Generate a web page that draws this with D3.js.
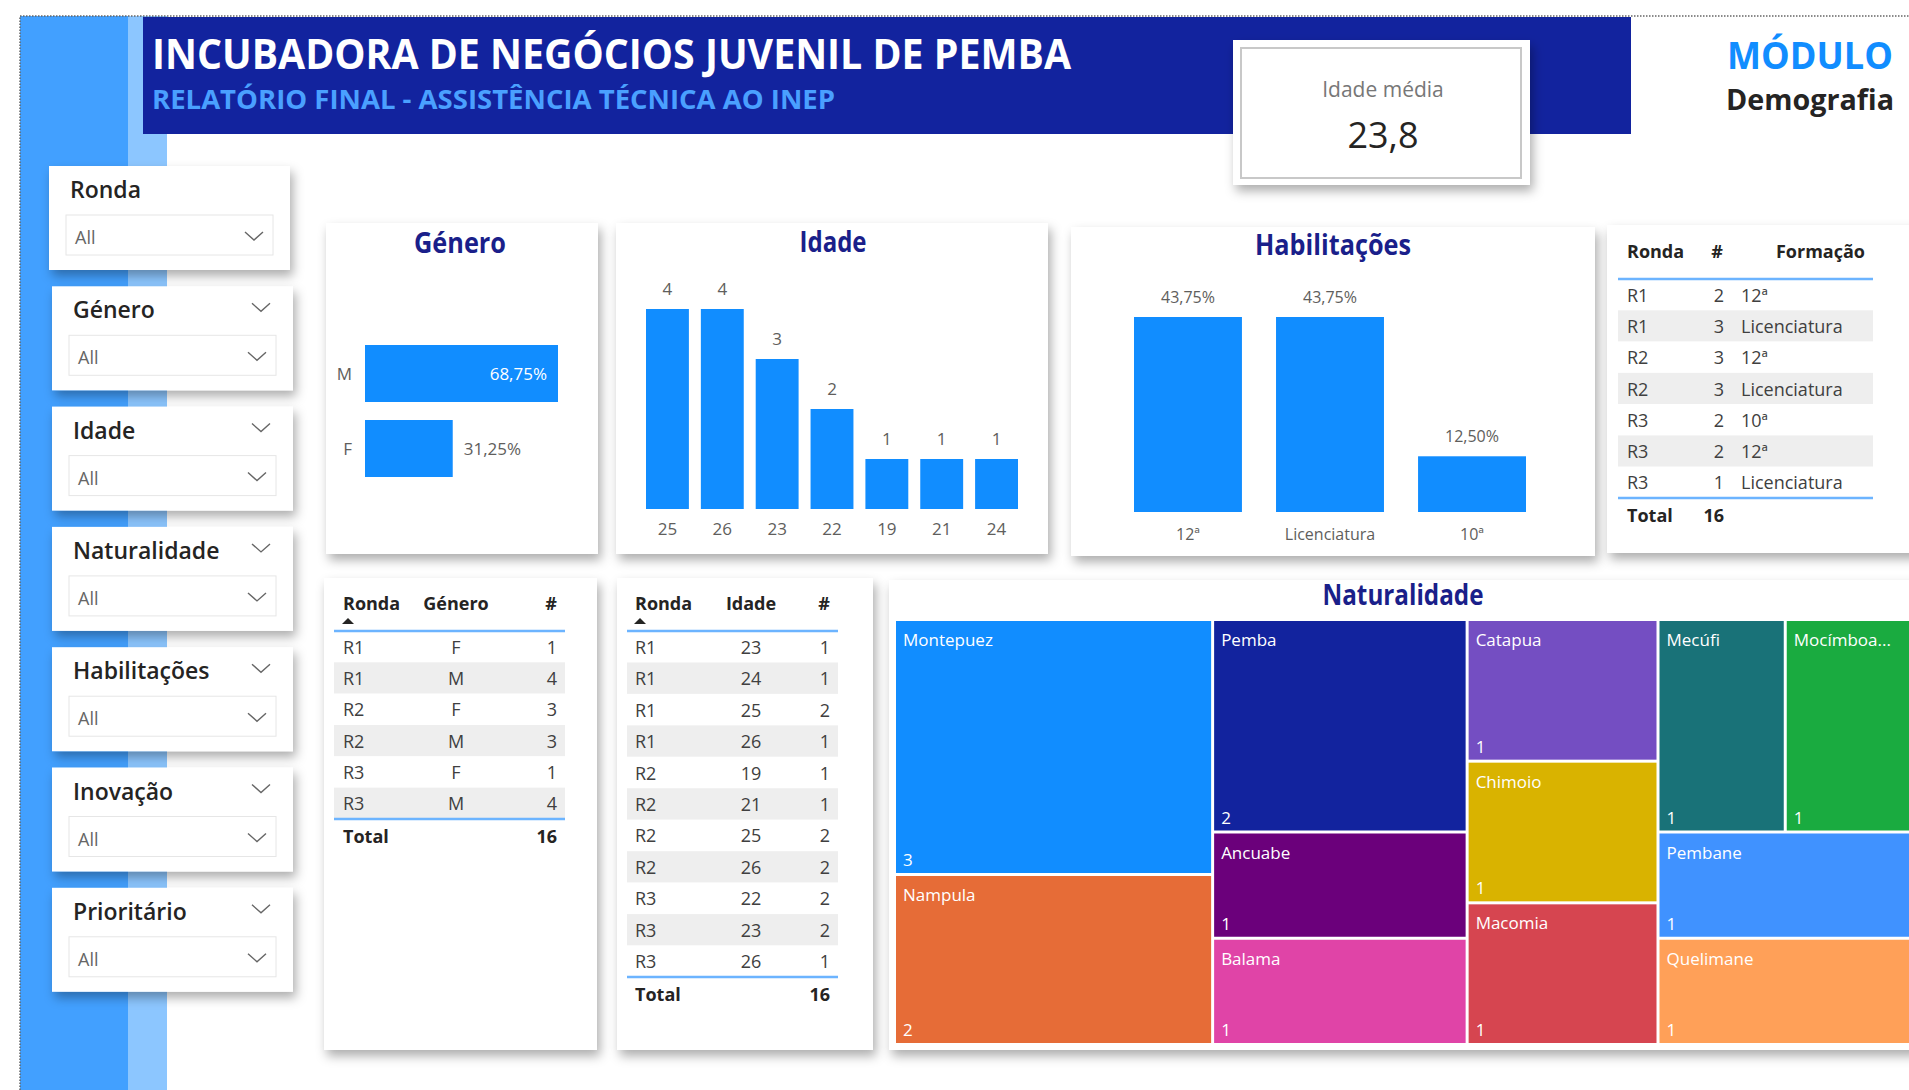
<!DOCTYPE html>
<html>
<head>
<meta charset="utf-8">
<script src="https://cdn.jsdelivr.net/npm/d3@7"></script>
<style>
  body { margin: 0; background: #fff; overflow: hidden; }
  svg { display: block; font-family: "Open Sans", "Noto Sans", sans-serif; }
</style>
</head>
<body>
<div id="chart"></div>
<script>
// ---- data ----
const slicerNames = ["Ronda", "Género", "Idade", "Naturalidade", "Habilitações", "Inovação", "Prioritário"];

const generoCats = ["M", "F"];
const generoPct = [0.6875, 0.3125];

const idadeCats = ["25", "26", "23", "22", "19", "21", "24"];
const idadeCounts = [4, 4, 3, 2, 1, 1, 1];

const habCats = ["12ª", "Licenciatura", "10ª"];
const habPct = [0.4375, 0.4375, 0.125];

const formRonda = ["R1", "R1", "R2", "R2", "R3", "R3", "R3"];
const formCount = [2, 3, 3, 3, 2, 2, 1];
const formNivel = ["12ª", "Licenciatura", "12ª", "Licenciatura", "10ª", "12ª", "Licenciatura"];

const genRonda = ["R1", "R1", "R2", "R2", "R3", "R3"];
const genSexo = ["F", "M", "F", "M", "F", "M"];
const genCount = [1, 4, 3, 3, 1, 4];

const idRonda = ["R1", "R1", "R1", "R1", "R2", "R2", "R2", "R2", "R3", "R3", "R3"];
const idIdade = [23, 24, 25, 26, 19, 21, 25, 26, 22, 23, 26];
const idCount = [1, 1, 2, 1, 1, 1, 2, 2, 2, 2, 1];

const natNames = ["Montepuez", "Nampula", "Pemba", "Ancuabe", "Balama", "Catapua", "Chimoio", "Macomia", "Mecúfi", "Mocímboa da Praia", "Pembane", "Quelimane"];
const natCounts = [3, 2, 2, 1, 1, 1, 1, 1, 1, 1, 1, 1];
const natColors = ["#118DFF", "#E66C37", "#12239E", "#6B007B", "#E044A7", "#744EC2", "#D9B300", "#D64550", "#197278", "#1AAB40", "#4092FF", "#FFA058"];

// ---- setup ----
const W = 1909, H = 1090;
const blue = "#118DFF", navy = "#1A1F8A", ink = "#252423", grey = "#605E5C";
const pt = d3.formatLocale({decimal: ",", thousands: ".", grouping: [3], currency: ["", "€"]});
const pct = pt.format(".2%");
const dec1 = pt.format(".1f");

const svg = d3.select("#chart").append("svg")
  .attr("width", W)
  .attr("height", H);

const filt = svg.append("defs").append("filter")
  .attr("id", "shadow")
  .attr("x", "-20%").attr("y", "-20%")
  .attr("width", "150%").attr("height", "150%");
filt.append("feDropShadow")
  .attr("dx", 3).attr("dy", 6)
  .attr("stdDeviation", 5.5)
  .attr("flood-color", "#000")
  .attr("flood-opacity", 0.32);

svg.append("rect").attr("width", W).attr("height", H).attr("fill", "#fff");

// left blue strip
svg.append("rect").attr("x", 20).attr("y", 16).attr("width", 108).attr("height", H - 16).attr("fill", "#42A0FF");
svg.append("rect").attr("x", 128).attr("y", 16).attr("width", 39).attr("height", H - 16).attr("fill", "#8CC6FF");

// dotted page border
svg.append("path")
  .attr("d", `M20,${H} L20,16 L${W},16`)
  .attr("fill", "none")
  .attr("stroke", "#666")
  .attr("stroke-width", 1.5)
  .attr("stroke-dasharray", "1.5,1.5");

// header band
svg.append("rect").attr("x", 143).attr("y", 17).attr("width", 1488).attr("height", 117).attr("fill", "#12239E");
svg.append("text")
  .attr("x", 152).attr("y", 69)
  .attr("font-size", 42).attr("font-weight", 700).attr("fill", "#fff")
  .attr("textLength", 919).attr("lengthAdjust", "spacingAndGlyphs")
  .text("INCUBADORA DE NEGÓCIOS JUVENIL DE PEMBA");
svg.append("text")
  .attr("x", 152).attr("y", 109)
  .attr("font-size", 27).attr("font-weight", 700).attr("fill", "#4AA0FF")
  .attr("textLength", 683).attr("lengthAdjust", "spacingAndGlyphs")
  .text("RELATÓRIO FINAL - ASSISTÊNCIA TÉCNICA AO INEP");

// KPI card
svg.append("rect").attr("x", 1233).attr("y", 40).attr("width", 297).attr("height", 145)
  .attr("fill", "#fff").attr("filter", "url(#shadow)");
svg.append("rect").attr("x", 1241).attr("y", 48).attr("width", 280).attr("height", 130)
  .attr("fill", "none").attr("stroke", "#C8C8C8").attr("stroke-width", 2);
svg.append("text").attr("x", 1383).attr("y", 97).attr("text-anchor", "middle")
  .attr("font-size", 21).attr("fill", "#777").text("Idade média");
const meanAge = d3.sum(idadeCats, (c, i) => +c * idadeCounts[i]) / d3.sum(idadeCounts);
svg.append("text").attr("x", 1383).attr("y", 148).attr("text-anchor", "middle")
  .attr("font-size", 36).attr("fill", ink).text(dec1(meanAge));

svg.append("text").attr("x", 1727).attr("y", 69)
  .attr("font-size", 38).attr("font-weight", 700).attr("fill", blue)
  .attr("textLength", 166).attr("lengthAdjust", "spacingAndGlyphs")
  .text("MÓDULO");
svg.append("text").attr("x", 1726).attr("y", 110)
  .attr("font-size", 29).attr("font-weight", 700).attr("fill", ink)
  .attr("textLength", 168).attr("lengthAdjust", "spacingAndGlyphs")
  .text("Demografia");

// ---- slicers ----
const chevron = (g, cx, cy) => g.append("path")
  .attr("d", `M${cx - 9},${cy - 4} L${cx},${cy + 4} L${cx + 9},${cy - 4}`)
  .attr("fill", "none").attr("stroke", "#666").attr("stroke-width", 1.4);

slicerNames.forEach((name, i) => {
  const top = 166 + i * 120.3;
  const g = svg.append("g").attr("transform", `translate(${i ? 52 : 49},${top})`);
  g.append("rect").attr("width", 241).attr("height", 104).attr("fill", "#fff").attr("filter", "url(#shadow)");
  g.append("text").attr("x", 21).attr("y", 32)
    .attr("font-size", 23).attr("font-weight", 600).attr("fill", ink).text(name);
  if (i > 0) chevron(g, 209, 21);
  g.append("rect").attr("x", 17).attr("y", 49).attr("width", 207).attr("height", 40)
    .attr("fill", "#fff").attr("stroke", "#E6E6E6");
  g.append("text").attr("x", 26).attr("y", 78)
    .attr("font-size", 18).attr("fill", "#666").text("All");
  chevron(g, 205, 70);
});

// ---- panels ----
const panel = (x, y, w, h) => svg.append("rect")
  .attr("x", x).attr("y", y).attr("width", w).attr("height", h)
  .attr("fill", "#fff").attr("filter", "url(#shadow)");

const title = (cx, y, str, width) => svg.append("text")
  .attr("x", cx).attr("y", y).attr("text-anchor", "middle")
  .attr("font-size", 28).attr("font-weight", 700).attr("fill", navy)
  .attr("textLength", width).attr("lengthAdjust", "spacingAndGlyphs")
  .text(str);

panel(326, 223, 272, 331);
panel(616, 223, 432, 331);
panel(1071, 227, 524, 329);
panel(1607, 225, 320, 328);
panel(324, 578, 273, 472);
panel(617, 578, 256, 472);
panel(889, 580, 1040, 470);

// Género bar chart
title(460, 253, "Género", 92);
const gx = d3.scaleLinear().domain([0, d3.max(generoPct)]).range([365, 558]);
const gy = d3.scaleBand().domain(generoCats).range([345, 477]).paddingInner(0.24);
const gData = generoCats.map((c, i) => ({c, v: generoPct[i]}));
svg.selectAll("rect.gbar").data(gData).enter().append("rect")
  .attr("class", "gbar")
  .attr("x", gx(0)).attr("y", d => gy(d.c))
  .attr("width", d => gx(d.v) - gx(0)).attr("height", gy.bandwidth())
  .attr("fill", blue);
svg.selectAll("text.gcat").data(gData).enter().append("text")
  .attr("x", 352).attr("y", d => gy(d.c) + gy.bandwidth() / 2 + 6)
  .attr("text-anchor", "end").attr("font-size", 17).attr("fill", grey)
  .text(d => d.c);
svg.selectAll("text.gval").data(gData).enter().append("text")
  .attr("y", d => gy(d.c) + gy.bandwidth() / 2 + 6)
  .attr("font-size", 17)
  .each(function (d) {
    const inside = gx(d.v) - gx(0) > 120;
    d3.select(this)
      .attr("x", inside ? gx(d.v) - 11 : gx(d.v) + 11)
      .attr("text-anchor", inside ? "end" : "start")
      .attr("fill", inside ? "#fff" : grey);
  })
  .text(d => pct(d.v));

// Idade column chart
title(833, 252, "Idade", 67);
const ix = d3.scaleBand().domain(idadeCats).range([646, 1018]).paddingInner(0.218);
const iy = d3.scaleLinear().domain([0, d3.max(idadeCounts)]).range([509, 309]);
const iData = idadeCats.map((c, i) => ({c, v: idadeCounts[i]}));
svg.selectAll("rect.ibar").data(iData).enter().append("rect")
  .attr("x", d => ix(d.c)).attr("y", d => iy(d.v))
  .attr("width", ix.bandwidth()).attr("height", d => iy(0) - iy(d.v))
  .attr("fill", blue);
svg.selectAll("text.ival").data(iData).enter().append("text")
  .attr("x", d => ix(d.c) + ix.bandwidth() / 2).attr("y", d => iy(d.v) - 14)
  .attr("text-anchor", "middle").attr("font-size", 17).attr("fill", grey)
  .text(d => d.v);
const iAxis = svg.append("g").attr("transform", `translate(0,${iy(0)})`)
  .call(d3.axisBottom(ix).tickSize(0).tickPadding(14));
iAxis.select(".domain").remove();
iAxis.selectAll("text").attr("font-size", 17).attr("fill", grey).attr("font-family", "Open Sans");

// Habilitações column chart
title(1333, 255, "Habilitações", 156);
const hx = d3.scaleBand().domain(habCats).range([1134, 1526]).paddingInner(0.24);
const hy = d3.scaleLinear().domain([0, d3.max(habPct)]).range([512, 317]);
const hData = habCats.map((c, i) => ({c, v: habPct[i]}));
svg.selectAll("rect.hbar").data(hData).enter().append("rect")
  .attr("x", d => hx(d.c)).attr("y", d => hy(d.v))
  .attr("width", hx.bandwidth()).attr("height", d => hy(0) - hy(d.v))
  .attr("fill", blue);
svg.selectAll("text.hval").data(hData).enter().append("text")
  .attr("x", d => hx(d.c) + hx.bandwidth() / 2).attr("y", d => hy(d.v) - 14)
  .attr("text-anchor", "middle").attr("font-size", 16).attr("fill", grey)
  .text(d => pct(d.v));
const hAxis = svg.append("g").attr("transform", `translate(0,${hy(0)})`)
  .call(d3.axisBottom(hx).tickSize(0).tickPadding(17));
hAxis.select(".domain").remove();
hAxis.selectAll("text").attr("font-size", 16).attr("fill", grey).attr("font-family", "Open Sans");

// ---- tables ----
const table = (cfg) => {
  const g = svg.append("g");
  cfg.cols.forEach(c => {
    g.append("text").attr("x", c.hx).attr("y", cfg.headY)
      .attr("text-anchor", c.hanchor).attr("font-size", 18).attr("font-weight", 700)
      .attr("fill", ink).text(c.head);
  });
  if (cfg.arrowX) {
    g.append("path")
      .attr("d", `M${cfg.arrowX - 6},${cfg.headY + 14} L${cfg.arrowX},${cfg.headY + 8} L${cfg.arrowX + 6},${cfg.headY + 14} Z`)
      .attr("fill", ink);
  }
  const ry = d3.scaleBand().domain(d3.range(cfg.rows.length))
    .range([cfg.lineY, cfg.totalY]);
  g.selectAll("rect.band").data(cfg.rows).enter().append("rect")
    .attr("x", cfg.x0).attr("width", cfg.x1 - cfg.x0)
    .attr("y", (d, i) => ry(i)).attr("height", ry.bandwidth())
    .attr("fill", (d, i) => i % 2 ? "#EEEEEE" : "#fff");
  cfg.cols.forEach((c, j) => {
    g.selectAll(null).data(cfg.rows).enter().append("text")
      .attr("x", c.x).attr("y", (d, i) => ry(i) + ry.bandwidth() / 2 + 7)
      .attr("text-anchor", c.anchor).attr("font-size", 18).attr("fill", "#404040")
      .text(d => d[j]);
  });
  [cfg.lineY, cfg.totalY].forEach(y => g.append("line")
    .attr("x1", cfg.x0).attr("x2", cfg.x1).attr("y1", y).attr("y2", y)
    .attr("stroke", "#6CB4FF").attr("stroke-width", 2.5));
  g.append("text").attr("x", cfg.cols[0].x).attr("y", cfg.totalY + 24)
    .attr("font-size", 18).attr("font-weight", 700).attr("fill", ink).text("Total");
  const tc = cfg.cols[cfg.sumCol];
  g.append("text").attr("x", tc.x).attr("y", cfg.totalY + 24)
    .attr("text-anchor", tc.anchor).attr("font-size", 18).attr("font-weight", 700)
    .attr("fill", ink).text(d3.sum(cfg.rows, r => r[cfg.sumCol]));
};

table({
  x0: 1618, x1: 1873, headY: 258, lineY: 279, totalY: 498, sumCol: 1,
  cols: [
    {head: "Ronda", hx: 1627, hanchor: "start", x: 1627, anchor: "start"},
    {head: "#", hx: 1723, hanchor: "end", x: 1724, anchor: "end"},
    {head: "Formação", hx: 1865, hanchor: "end", x: 1741, anchor: "start"}
  ],
  rows: formRonda.map((r, i) => [r, formCount[i], formNivel[i]])
});

table({
  x0: 334, x1: 565, headY: 610, lineY: 631, totalY: 819, sumCol: 2, arrowX: 348,
  cols: [
    {head: "Ronda", hx: 343, hanchor: "start", x: 343, anchor: "start"},
    {head: "Género", hx: 456, hanchor: "middle", x: 456, anchor: "middle"},
    {head: "#", hx: 557, hanchor: "end", x: 557, anchor: "end"}
  ],
  rows: genRonda.map((r, i) => [r, genSexo[i], genCount[i]])
});

table({
  x0: 627, x1: 838, headY: 610, lineY: 631, totalY: 977, sumCol: 2, arrowX: 640,
  cols: [
    {head: "Ronda", hx: 635, hanchor: "start", x: 635, anchor: "start"},
    {head: "Idade", hx: 751, hanchor: "middle", x: 751, anchor: "middle"},
    {head: "#", hx: 830, hanchor: "end", x: 830, anchor: "end"}
  ],
  rows: idRonda.map((r, i) => [r, idIdade[i], idCount[i]])
});

// ---- Naturalidade treemap ----
title(1403, 605, "Naturalidade", 161);
const root = d3.hierarchy({children: natNames.map((n, i) => ({name: n, value: natCounts[i], color: natColors[i]}))})
  .sum(d => d.value || 0);
d3.treemap().size([1015, 422]).paddingInner(3).tile(d3.treemapSquarify)(root);

const tm = svg.append("g").attr("transform", "translate(896,621)");
const cell = tm.selectAll("g").data(root.leaves()).enter().append("g")
  .attr("transform", d => `translate(${d.x0},${d.y0})`);
cell.append("rect")
  .attr("width", d => d.x1 - d.x0).attr("height", d => d.y1 - d.y0)
  .attr("fill", d => d.data.color);
cell.append("text")
  .attr("x", 7).attr("y", 25)
  .attr("font-size", 17).attr("fill", "#fff")
  .text(d => d.data.name)
  .each(function (d) {
    // truncate long names back to whole words, then add an ellipsis
    const max = d.x1 - d.x0 - 12;
    const t = d3.select(this);
    let words = d.data.name.split(" ");
    while (this.getComputedTextLength() > max && words.length > 1) {
      words = words.slice(0, -1);
      t.text(words.join(" ") + "...");
    }
  });
cell.append("text")
  .attr("x", 7).attr("y", d => d.y1 - d.y0 - 7)
  .attr("font-size", 17).attr("fill", "#fff")
  .text(d => d.value);
</script>
</body>
</html>
